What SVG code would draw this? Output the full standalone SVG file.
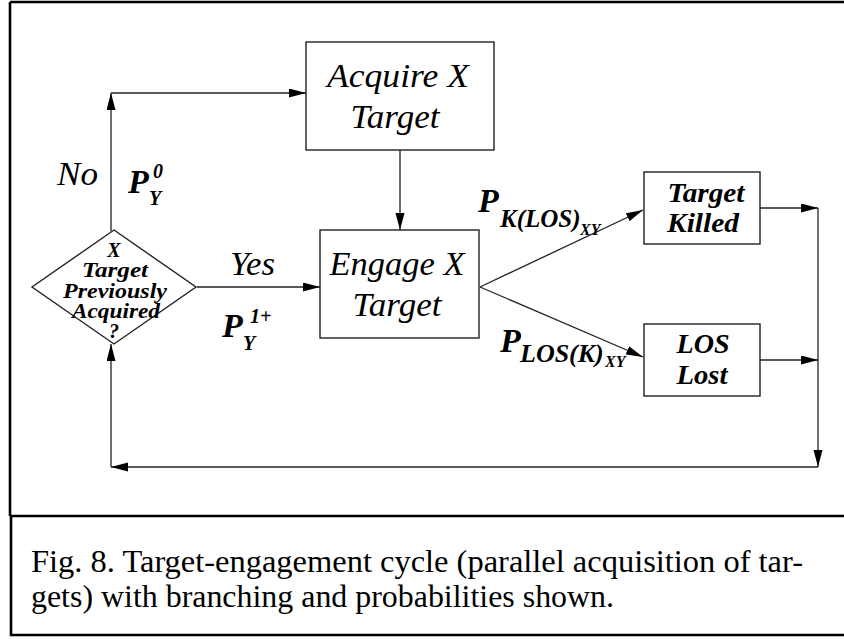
<svg xmlns="http://www.w3.org/2000/svg" width="844" height="639" viewBox="0 0 844 639">
<style>
.box{fill:#fff;stroke:#222;stroke-width:1.4}
.con{fill:none;stroke:#222;stroke-width:1.3}
.frame{fill:none;stroke:#000;stroke-width:2.6}
.it{font-family:"Liberation Serif","Times New Roman",serif;font-style:italic;fill:#000}
.bi{font-family:"Liberation Serif","Times New Roman",serif;font-style:italic;font-weight:bold;fill:#000}
.cap{font-family:"Liberation Serif","Times New Roman",serif;fill:#000;font-size:32px}
</style>
<defs>
<marker id="ah" markerUnits="userSpaceOnUse" markerWidth="18" markerHeight="10" refX="17" refY="4.5" orient="auto">
<path d="M0,0 L17,4.5 L0,9 z" fill="#000"/>
</marker>
</defs>
<rect width="844" height="639" fill="#fff"/>
<g id="frame">
<path class="frame" d="M10,2 H850 M10,2 V516 M10,516 H850 M11,516 V635 H850"/>
</g>
<g id="connectors">
<path class="con" d="M111,231 V93" marker-end="url(#ah)"/>
<path class="con" d="M111,93 H306" marker-end="url(#ah)"/>
<path class="con" d="M400,150 V230" marker-end="url(#ah)"/>
<path class="con" d="M197,287 H320" marker-end="url(#ah)"/>
<path class="con" d="M480,287 L643,210" marker-end="url(#ah)"/>
<path class="con" d="M480,287 L643,357" marker-end="url(#ah)"/>
<path class="con" d="M760,208 H818" marker-end="url(#ah)"/>
<path class="con" d="M760,360 H818" marker-end="url(#ah)"/>
<path class="con" d="M818,208 V467" marker-end="url(#ah)"/>
<path class="con" d="M818,467 H111" marker-end="url(#ah)"/>
<path class="con" d="M111,467 V344" marker-end="url(#ah)"/>
</g>
<g id="decision">
<polygon class="box" points="114,230 196,287 114,344 32,287"/>
<g class="bi" font-size="20" text-anchor="middle">
<text x="114" y="257">X</text>
<text x="115" y="277" textLength="66" lengthAdjust="spacingAndGlyphs">Target</text>
<text x="115" y="298" textLength="104" lengthAdjust="spacingAndGlyphs">Previously</text>
<text x="116" y="318" textLength="88" lengthAdjust="spacingAndGlyphs">Acquired</text>
<text x="114" y="338">?</text>
</g>
</g>
<g id="acquire">
<rect class="box" x="306" y="42" width="188" height="108"/>
<g class="it" font-size="34" text-anchor="middle">
<text x="398" y="87" textLength="142" lengthAdjust="spacingAndGlyphs">Acquire X</text>
<text x="395" y="128" textLength="89" lengthAdjust="spacingAndGlyphs">Target</text>
</g>
</g>
<g id="engage">
<rect class="box" x="320" y="230" width="159" height="108"/>
<g class="it" font-size="34" text-anchor="middle">
<text x="397" y="275" textLength="135" lengthAdjust="spacingAndGlyphs">Engage X</text>
<text x="397" y="316" textLength="89" lengthAdjust="spacingAndGlyphs">Target</text>
</g>
</g>
<g id="killed">
<rect class="box" x="644" y="172" width="116" height="72"/>
<g class="bi" font-size="27" text-anchor="middle">
<text x="706" y="202" textLength="77" lengthAdjust="spacingAndGlyphs">Target</text>
<text x="703" y="232" textLength="72" lengthAdjust="spacingAndGlyphs">Killed</text>
</g>
</g>
<g id="loslost">
<rect class="box" x="644" y="324" width="116" height="72"/>
<g class="bi" font-size="27" text-anchor="middle">
<text x="703" y="353" textLength="53" lengthAdjust="spacingAndGlyphs">LOS</text>
<text x="702" y="384" textLength="51" lengthAdjust="spacingAndGlyphs">Lost</text>
</g>
</g>
<g id="labels">
<text class="it" x="57" y="185" font-size="34" textLength="41" lengthAdjust="spacingAndGlyphs">No</text>
<text class="it" x="230" y="275" font-size="33" textLength="45" lengthAdjust="spacingAndGlyphs">Yes</text>
<text class="bi" x="128" y="193" font-size="34">P<tspan x="153" y="178" font-size="20">0</tspan><tspan x="149" y="205" font-size="20">Y</tspan></text>
<text class="bi" x="222" y="337" font-size="34">P<tspan x="250" y="323" font-size="20">1+</tspan><tspan x="243" y="350" font-size="20">Y</tspan></text>
<text class="bi" x="478" y="212" font-size="34">P<tspan x="500" y="227" font-size="25">K(LOS)</tspan><tspan x="580" y="235" font-size="16">XY</tspan></text>
<text class="bi" x="500" y="352" font-size="34">P<tspan x="520" y="362" font-size="26">LOS(K)</tspan><tspan x="605" y="367" font-size="16">XY</tspan></text>
</g>
<g id="caption">
<text class="cap" x="31" y="572" textLength="772" lengthAdjust="spacingAndGlyphs">Fig. 8.  Target-engagement cycle (parallel acquisition of tar-</text>
<text class="cap" x="31" y="607" textLength="583" lengthAdjust="spacingAndGlyphs">gets) with branching and probabilities shown.</text>
</g>
</svg>
